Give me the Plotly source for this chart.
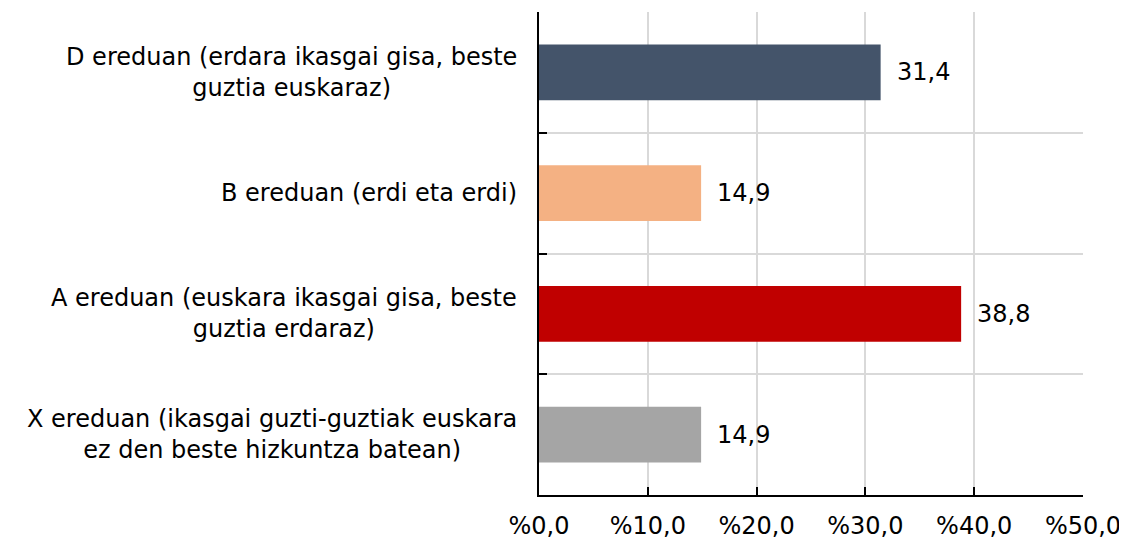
import plotly.graph_objects as go

categories = [
    "X ereduan (ikasgai guzti-guztiak euskara<br>ez den beste hizkuntza batean)",
    "A ereduan (euskara ikasgai gisa, beste<br>guztia erdaraz)",
    "B ereduan (erdi eta erdi)",
    "D ereduan (erdara ikasgai gisa, beste<br>guztia euskaraz)",
]
values = [14.9, 38.8, 14.9, 31.4]
value_labels = ["14,9", "38,8", "14,9", "31,4"]
colors = ["#A5A5A5", "#C00000", "#F4B183", "#44546A"]
tick_vals = [0, 10, 20, 30, 40, 50]
tick_text = ["%0,0", "%10,0", "%20,0", "%30,0", "%40,0", "%50,0"]

FONT = "DejaVu Sans"
SIZE = 24
fig = go.Figure()
fig.add_trace(go.Bar(
    y=categories, x=values, orientation="h",
    marker=dict(color=colors, line=dict(width=0)),
    width=0.46, hoverinfo="skip",
))
for c, v, t in zip(categories, values, value_labels):
    fig.add_annotation(x=v, y=c, text=t, showarrow=False, xanchor="left",
                       xshift=14, font=dict(family=FONT, size=SIZE, color="#000000"))
for c in categories:
    fig.add_annotation(x=0, xref="paper", y=c, yref="y", text=c, showarrow=False,
                       xanchor="right", align="center", xshift=-20,
                       font=dict(family=FONT, size=SIZE, color="#000000"))

fig.update_layout(
    width=1119, height=532,
    margin=dict(l=531, r=44, t=4, b=45),
    paper_bgcolor="white", plot_bgcolor="white",
    showlegend=False,
    font=dict(family=FONT, size=SIZE, color="#000000"),
)
fig.update_xaxes(
    range=[0, 50], tickvals=tick_vals, ticktext=tick_text,
    showgrid=True, gridcolor="#D9D9D9", gridwidth=1.5,
    showline=True, linecolor="#000000", linewidth=1.5,
    ticks="inside", ticklen=8, tickcolor="#000000", tickwidth=1.5,
    zeroline=False, ticklabelstandoff=8, automargin=False,
)
fig.update_yaxes(
    type="category", tickson="boundaries", showticklabels=False,
    showgrid=True, gridcolor="#D9D9D9", gridwidth=1.5,
    showline=True, linecolor="#000000", linewidth=1.5,
    ticks="inside", ticklen=8, tickcolor="#000000", tickwidth=1.5,
    range=[-0.5, 3.5], automargin=False,
)
fig.write_html("out.html")
